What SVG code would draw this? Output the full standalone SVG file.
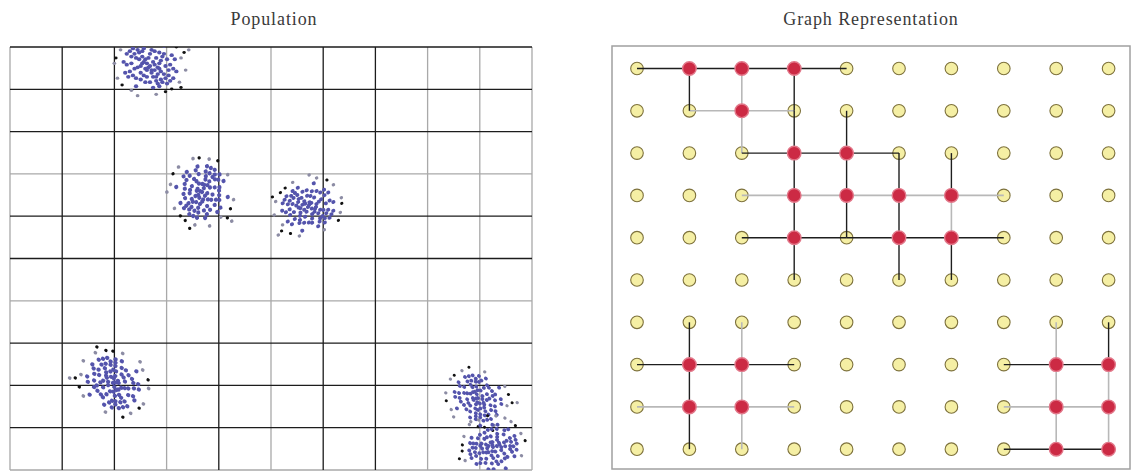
<svg xmlns="http://www.w3.org/2000/svg" xmlns:xlink="http://www.w3.org/1999/xlink" width="1136" height="472" viewBox="0 0 1136 472">
<style>
.title{font-family:"Liberation Serif","Times New Roman",serif;font-size:18px;fill:#3a3a3a;letter-spacing:0.9px;text-anchor:middle}
.gk{stroke:#1c1c1c;stroke-width:1.3;fill:none}
.gg{stroke:#a9a9a9;stroke-width:1.3;fill:none}
.b{fill:#5454ac}
.g{fill:#8c8ca4}
.k{fill:#111}
.ek{stroke:#1e1e1e;stroke-width:1.4}
.eg{stroke:#b8b8b8;stroke-width:1.6}
.yn circle{fill:#f5efa4;stroke:#7d713c;stroke-width:1.1}
.rn circle{fill:#cc2a44;stroke:#e2788a;stroke-width:1.4}
</style>
<defs>
<clipPath id="lclip"><rect x="10" y="47" width="522" height="423"/></clipPath>
<g id="blob">
<g class="b">
<circle cx="0" cy="0" r="1.4"/><circle cx="2" cy="-3" r="1.4"/><circle cx="-3" cy="2" r="1.4"/><circle cx="5" cy="1" r="1.4"/><circle cx="-5" cy="-2" r="1.4"/><circle cx="1" cy="5" r="1.4"/><circle cx="-1" cy="-6" r="1.4"/><circle cx="4" cy="-6" r="1.4"/><circle cx="-6" cy="5" r="1.4"/><circle cx="7" cy="4" r="1.4"/><circle cx="-7" cy="-5" r="1.4"/><circle cx="3" cy="3" r="1.4"/><circle cx="-2" cy="-2" r="1.4"/><circle cx="6" cy="-2" r="1.4"/><circle cx="-4" cy="7" r="1.4"/><circle cx="0" cy="-9" r="1.4"/><circle cx="8" cy="-7" r="1.4"/><circle cx="-8" cy="1" r="1.4"/><circle cx="2" cy="8" r="1.4"/><circle cx="-2" cy="3" r="1.4"/>
<circle cx="10" cy="0" r="1.4"/><circle cx="-10" cy="2" r="1.4"/><circle cx="9" cy="6" r="1.4"/><circle cx="-9" cy="-6" r="1.4"/><circle cx="4" cy="11" r="1.4"/><circle cx="-5" cy="-11" r="1.4"/><circle cx="11" cy="-5" r="1.4"/><circle cx="-11" cy="7" r="1.4"/><circle cx="0" cy="12" r="1.4"/><circle cx="1" cy="-12" r="1.4"/><circle cx="7" cy="10" r="1.4"/><circle cx="-7" cy="-10" r="1.4"/><circle cx="12" cy="3" r="1.4"/><circle cx="-12" cy="-2" r="1.4"/><circle cx="6" cy="-10" r="1.4"/><circle cx="-6" cy="10" r="1.4"/><circle cx="10" cy="9" r="1.4"/><circle cx="-10" cy="-9" r="1.4"/><circle cx="13" cy="-1" r="1.4"/><circle cx="-13" cy="4" r="1.4"/><circle cx="3" cy="-11" r="1.4"/><circle cx="-3" cy="12" r="1.4"/><circle cx="9" cy="-9" r="1.4"/><circle cx="-9" cy="9" r="1.4"/><circle cx="12" cy="7" r="1.4"/><circle cx="-12" cy="-7" r="1.4"/><circle cx="5" cy="13" r="1.4"/><circle cx="-4" cy="-13" r="1.4"/><circle cx="8" cy="12" r="1.4"/><circle cx="-8" cy="-12" r="1.4"/>
<circle cx="15" cy="2" r="1.4"/><circle cx="-15" cy="-1" r="1.4"/><circle cx="14" cy="-8" r="1.4"/><circle cx="-14" cy="8" r="1.4"/><circle cx="2" cy="16" r="1.4"/><circle cx="-2" cy="-16" r="1.4"/><circle cx="11" cy="13" r="1.4"/><circle cx="-11" cy="-13" r="1.4"/><circle cx="16" cy="-5" r="1.4"/><circle cx="-16" cy="5" r="1.4"/><circle cx="6" cy="15" r="1.4"/><circle cx="-7" cy="-15" r="1.4"/><circle cx="13" cy="11" r="1.4"/><circle cx="-13" cy="-11" r="1.4"/><circle cx="17" cy="4" r="1.4"/><circle cx="-17" cy="-3" r="1.4"/><circle cx="9" cy="-15" r="1.4"/><circle cx="-9" cy="15" r="1.4"/><circle cx="15" cy="9" r="1.4"/><circle cx="-15" cy="-9" r="1.4"/>
<circle cx="3" cy="-1" r="1.4"/><circle cx="-1" cy="1" r="1.4"/><circle cx="5" cy="6" r="1.4"/><circle cx="-5" cy="-7" r="1.4"/><circle cx="7" cy="-4" r="1.4"/><circle cx="-3" cy="-5" r="1.4"/><circle cx="1" cy="3" r="1.4"/><circle cx="-6" cy="0" r="1.4"/><circle cx="4" cy="8" r="1.4"/><circle cx="-4" cy="-3" r="1.4"/><circle cx="6" cy="2" r="1.4"/><circle cx="-2" cy="8" r="1.4"/>
</g>
<g class="g">
<circle cx="20" cy="-6" r="1.2"/><circle cx="-21" cy="9" r="1.2"/><circle cx="19" cy="12" r="1.2"/><circle cx="-19" cy="-12" r="1.2"/><circle cx="4" cy="21" r="1.2"/><circle cx="-5" cy="-20" r="1.2"/><circle cx="23" cy="3" r="1.2"/><circle cx="-23" cy="-2" r="1.2"/><circle cx="12" cy="-18" r="1.2"/><circle cx="-12" cy="18" r="1.2"/><circle cx="25" cy="-12" r="1.2"/><circle cx="-8" cy="22" r="1.2"/>
</g>
<g class="k">
<circle cx="17" cy="-14" r="1.1"/><circle cx="-18" cy="14" r="1.1"/><circle cx="20" cy="16" r="1.1"/><circle cx="-16" cy="-17" r="1.1"/><circle cx="10" cy="19" r="1.1"/><circle cx="-22" cy="-6" r="1.1"/><circle cx="22" cy="-10" r="1.1"/><circle cx="14" cy="17" r="1.1"/>
</g>
</g>
</defs>
<rect width="1136" height="472" fill="#fff"/>

<text class="title" x="274" y="25">Population</text>
<text class="title" x="871" y="25">Graph Representation</text>

<g id="population">
<g id="grid">
<path class="gg" d="M10,47V470M532,47V470M166.6,47V470M271,47V470M427.6,47V470M479.8,47V470M10,173.9H532M10,300.8H532M10,470H532"/>
<path class="gk" d="M10,47H532M62.2,47V470M114.4,47V470M218.8,47V470M323.2,47V470M375.4,47V470M10,89.3H532M10,131.6H532M10,216.2H532M10,258.5H532M10,343.1H532M10,385.4H532M10,427.7H532"/>
</g>
<g id="clusters" clip-path="url(#lclip)">
<use xlink:href="#blob" transform="translate(150,66) scale(1.55,1.35)"/>
<use xlink:href="#blob" transform="translate(202,192) rotate(70) scale(1.5)"/>
<use xlink:href="#blob" transform="translate(308,207) rotate(160) scale(1.5,1.35)"/>
<use xlink:href="#blob" transform="translate(113,383) rotate(210) scale(1.6,1.45)"/>
<use xlink:href="#blob" transform="translate(478,398) rotate(30) scale(1.45,1.3)"/>
<use xlink:href="#blob" transform="translate(493,447) rotate(120) scale(1.35,1.45)"/>
</g>
</g>

<rect id="graph-frame" x="612" y="46" width="518" height="423" fill="none" stroke="#a0a0a0" stroke-width="1.5"/>

<g id="yellow-nodes" class="yn">
<g id="n0_0"><circle cx="637" cy="68.5" r="6.3"/></g>
<g id="n0_4"><circle cx="846.6" cy="68.5" r="6.3"/></g>
<g id="n0_5"><circle cx="899" cy="68.5" r="6.3"/></g>
<g id="n0_6"><circle cx="951.4" cy="68.5" r="6.3"/></g>
<g id="n0_7"><circle cx="1003.8" cy="68.5" r="6.3"/></g>
<g id="n0_8"><circle cx="1056.2" cy="68.5" r="6.3"/></g>
<g id="n0_9"><circle cx="1108.6" cy="68.5" r="6.3"/></g>
<g id="n1_0"><circle cx="637" cy="110.8" r="6.3"/></g>
<g id="n1_1"><circle cx="689.4" cy="110.8" r="6.3"/></g>
<g id="n1_3"><circle cx="794.2" cy="110.8" r="6.3"/></g>
<g id="n1_4"><circle cx="846.6" cy="110.8" r="6.3"/></g>
<g id="n1_5"><circle cx="899" cy="110.8" r="6.3"/></g>
<g id="n1_6"><circle cx="951.4" cy="110.8" r="6.3"/></g>
<g id="n1_7"><circle cx="1003.8" cy="110.8" r="6.3"/></g>
<g id="n1_8"><circle cx="1056.2" cy="110.8" r="6.3"/></g>
<g id="n1_9"><circle cx="1108.6" cy="110.8" r="6.3"/></g>
<g id="n2_0"><circle cx="637" cy="153.1" r="6.3"/></g>
<g id="n2_1"><circle cx="689.4" cy="153.1" r="6.3"/></g>
<g id="n2_2"><circle cx="741.8" cy="153.1" r="6.3"/></g>
<g id="n2_5"><circle cx="899" cy="153.1" r="6.3"/></g>
<g id="n2_6"><circle cx="951.4" cy="153.1" r="6.3"/></g>
<g id="n2_7"><circle cx="1003.8" cy="153.1" r="6.3"/></g>
<g id="n2_8"><circle cx="1056.2" cy="153.1" r="6.3"/></g>
<g id="n2_9"><circle cx="1108.6" cy="153.1" r="6.3"/></g>
<g id="n3_0"><circle cx="637" cy="195.4" r="6.3"/></g>
<g id="n3_1"><circle cx="689.4" cy="195.4" r="6.3"/></g>
<g id="n3_2"><circle cx="741.8" cy="195.4" r="6.3"/></g>
<g id="n3_7"><circle cx="1003.8" cy="195.4" r="6.3"/></g>
<g id="n3_8"><circle cx="1056.2" cy="195.4" r="6.3"/></g>
<g id="n3_9"><circle cx="1108.6" cy="195.4" r="6.3"/></g>
<g id="n4_0"><circle cx="637" cy="237.7" r="6.3"/></g>
<g id="n4_1"><circle cx="689.4" cy="237.7" r="6.3"/></g>
<g id="n4_2"><circle cx="741.8" cy="237.7" r="6.3"/></g>
<g id="n4_4"><circle cx="846.6" cy="237.7" r="6.3"/></g>
<g id="n4_7"><circle cx="1003.8" cy="237.7" r="6.3"/></g>
<g id="n4_8"><circle cx="1056.2" cy="237.7" r="6.3"/></g>
<g id="n4_9"><circle cx="1108.6" cy="237.7" r="6.3"/></g>
<g id="n5_0"><circle cx="637" cy="280" r="6.3"/></g>
<g id="n5_1"><circle cx="689.4" cy="280" r="6.3"/></g>
<g id="n5_2"><circle cx="741.8" cy="280" r="6.3"/></g>
<g id="n5_3"><circle cx="794.2" cy="280" r="6.3"/></g>
<g id="n5_4"><circle cx="846.6" cy="280" r="6.3"/></g>
<g id="n5_5"><circle cx="899" cy="280" r="6.3"/></g>
<g id="n5_6"><circle cx="951.4" cy="280" r="6.3"/></g>
<g id="n5_7"><circle cx="1003.8" cy="280" r="6.3"/></g>
<g id="n5_8"><circle cx="1056.2" cy="280" r="6.3"/></g>
<g id="n5_9"><circle cx="1108.6" cy="280" r="6.3"/></g>
<g id="n6_0"><circle cx="637" cy="322.3" r="6.3"/></g>
<g id="n6_1"><circle cx="689.4" cy="322.3" r="6.3"/></g>
<g id="n6_2"><circle cx="741.8" cy="322.3" r="6.3"/></g>
<g id="n6_3"><circle cx="794.2" cy="322.3" r="6.3"/></g>
<g id="n6_4"><circle cx="846.6" cy="322.3" r="6.3"/></g>
<g id="n6_5"><circle cx="899" cy="322.3" r="6.3"/></g>
<g id="n6_6"><circle cx="951.4" cy="322.3" r="6.3"/></g>
<g id="n6_7"><circle cx="1003.8" cy="322.3" r="6.3"/></g>
<g id="n6_8"><circle cx="1056.2" cy="322.3" r="6.3"/></g>
<g id="n6_9"><circle cx="1108.6" cy="322.3" r="6.3"/></g>
<g id="n7_0"><circle cx="637" cy="364.6" r="6.3"/></g>
<g id="n7_3"><circle cx="794.2" cy="364.6" r="6.3"/></g>
<g id="n7_4"><circle cx="846.6" cy="364.6" r="6.3"/></g>
<g id="n7_5"><circle cx="899" cy="364.6" r="6.3"/></g>
<g id="n7_6"><circle cx="951.4" cy="364.6" r="6.3"/></g>
<g id="n7_7"><circle cx="1003.8" cy="364.6" r="6.3"/></g>
<g id="n8_0"><circle cx="637" cy="406.9" r="6.3"/></g>
<g id="n8_3"><circle cx="794.2" cy="406.9" r="6.3"/></g>
<g id="n8_4"><circle cx="846.6" cy="406.9" r="6.3"/></g>
<g id="n8_5"><circle cx="899" cy="406.9" r="6.3"/></g>
<g id="n8_6"><circle cx="951.4" cy="406.9" r="6.3"/></g>
<g id="n8_7"><circle cx="1003.8" cy="406.9" r="6.3"/></g>
<g id="n9_0"><circle cx="637" cy="449.2" r="6.3"/></g>
<g id="n9_1"><circle cx="689.4" cy="449.2" r="6.3"/></g>
<g id="n9_2"><circle cx="741.8" cy="449.2" r="6.3"/></g>
<g id="n9_3"><circle cx="794.2" cy="449.2" r="6.3"/></g>
<g id="n9_4"><circle cx="846.6" cy="449.2" r="6.3"/></g>
<g id="n9_5"><circle cx="899" cy="449.2" r="6.3"/></g>
<g id="n9_6"><circle cx="951.4" cy="449.2" r="6.3"/></g>
<g id="n9_7"><circle cx="1003.8" cy="449.2" r="6.3"/></g>
</g>

<g id="connectors">
<g class="eg">
<line x1="741.8" y1="68.5" x2="741.8" y2="110.8"/>
<line x1="689.4" y1="110.8" x2="741.8" y2="110.8"/>
<line x1="741.8" y1="110.8" x2="794.2" y2="110.8"/>
<line x1="741.8" y1="110.8" x2="741.8" y2="153.1"/>
<line x1="741.8" y1="195.4" x2="794.2" y2="195.4"/>
<line x1="794.2" y1="195.4" x2="846.6" y2="195.4"/>
<line x1="846.6" y1="195.4" x2="899" y2="195.4"/>
<line x1="899" y1="195.4" x2="951.4" y2="195.4"/>
<line x1="951.4" y1="195.4" x2="1003.8" y2="195.4"/>
<line x1="951.4" y1="195.4" x2="951.4" y2="237.7"/>
<line x1="741.8" y1="322.3" x2="741.8" y2="364.6"/>
<line x1="1056.2" y1="322.3" x2="1056.2" y2="364.6"/>
<line x1="741.8" y1="364.6" x2="741.8" y2="406.9"/>
<line x1="1056.2" y1="364.6" x2="1056.2" y2="406.9"/>
<line x1="1108.6" y1="364.6" x2="1108.6" y2="406.9"/>
<line x1="637" y1="406.9" x2="689.4" y2="406.9"/>
<line x1="689.4" y1="406.9" x2="741.8" y2="406.9"/>
<line x1="741.8" y1="406.9" x2="794.2" y2="406.9"/>
<line x1="1003.8" y1="406.9" x2="1056.2" y2="406.9"/>
<line x1="1056.2" y1="406.9" x2="1108.6" y2="406.9"/>
<line x1="741.8" y1="406.9" x2="741.8" y2="449.2"/>
<line x1="1056.2" y1="406.9" x2="1056.2" y2="449.2"/>
<line x1="1108.6" y1="406.9" x2="1108.6" y2="449.2"/>
</g>
<g class="ek">
<line x1="637" y1="68.5" x2="689.4" y2="68.5"/>
<line x1="689.4" y1="68.5" x2="741.8" y2="68.5"/>
<line x1="741.8" y1="68.5" x2="794.2" y2="68.5"/>
<line x1="794.2" y1="68.5" x2="846.6" y2="68.5"/>
<line x1="689.4" y1="68.5" x2="689.4" y2="110.8"/>
<line x1="794.2" y1="68.5" x2="794.2" y2="110.8"/>
<line x1="794.2" y1="110.8" x2="794.2" y2="153.1"/>
<line x1="846.6" y1="110.8" x2="846.6" y2="153.1"/>
<line x1="741.8" y1="153.1" x2="794.2" y2="153.1"/>
<line x1="794.2" y1="153.1" x2="846.6" y2="153.1"/>
<line x1="846.6" y1="153.1" x2="899" y2="153.1"/>
<line x1="794.2" y1="153.1" x2="794.2" y2="195.4"/>
<line x1="846.6" y1="153.1" x2="846.6" y2="195.4"/>
<line x1="899" y1="153.1" x2="899" y2="195.4"/>
<line x1="951.4" y1="153.1" x2="951.4" y2="195.4"/>
<line x1="794.2" y1="195.4" x2="794.2" y2="237.7"/>
<line x1="846.6" y1="195.4" x2="846.6" y2="237.7"/>
<line x1="899" y1="195.4" x2="899" y2="237.7"/>
<line x1="741.8" y1="237.7" x2="794.2" y2="237.7"/>
<line x1="794.2" y1="237.7" x2="846.6" y2="237.7"/>
<line x1="846.6" y1="237.7" x2="899" y2="237.7"/>
<line x1="899" y1="237.7" x2="951.4" y2="237.7"/>
<line x1="951.4" y1="237.7" x2="1003.8" y2="237.7"/>
<line x1="794.2" y1="237.7" x2="794.2" y2="280"/>
<line x1="899" y1="237.7" x2="899" y2="280"/>
<line x1="951.4" y1="237.7" x2="951.4" y2="280"/>
<line x1="689.4" y1="322.3" x2="689.4" y2="364.6"/>
<line x1="1108.6" y1="322.3" x2="1108.6" y2="364.6"/>
<line x1="637" y1="364.6" x2="689.4" y2="364.6"/>
<line x1="689.4" y1="364.6" x2="741.8" y2="364.6"/>
<line x1="741.8" y1="364.6" x2="794.2" y2="364.6"/>
<line x1="1003.8" y1="364.6" x2="1056.2" y2="364.6"/>
<line x1="1056.2" y1="364.6" x2="1108.6" y2="364.6"/>
<line x1="689.4" y1="364.6" x2="689.4" y2="406.9"/>
<line x1="689.4" y1="406.9" x2="689.4" y2="449.2"/>
<line x1="1003.8" y1="449.2" x2="1056.2" y2="449.2"/>
<line x1="1056.2" y1="449.2" x2="1108.6" y2="449.2"/>
</g>
</g>

<g id="red-nodes" class="rn">
<g id="n0_1"><circle cx="689.4" cy="68.5" r="6.8"/></g>
<g id="n0_2"><circle cx="741.8" cy="68.5" r="6.8"/></g>
<g id="n0_3"><circle cx="794.2" cy="68.5" r="6.8"/></g>
<g id="n1_2"><circle cx="741.8" cy="110.8" r="6.8"/></g>
<g id="n2_3"><circle cx="794.2" cy="153.1" r="6.8"/></g>
<g id="n2_4"><circle cx="846.6" cy="153.1" r="6.8"/></g>
<g id="n3_3"><circle cx="794.2" cy="195.4" r="6.8"/></g>
<g id="n3_4"><circle cx="846.6" cy="195.4" r="6.8"/></g>
<g id="n3_5"><circle cx="899" cy="195.4" r="6.8"/></g>
<g id="n3_6"><circle cx="951.4" cy="195.4" r="6.8"/></g>
<g id="n4_3"><circle cx="794.2" cy="237.7" r="6.8"/></g>
<g id="n4_5"><circle cx="899" cy="237.7" r="6.8"/></g>
<g id="n4_6"><circle cx="951.4" cy="237.7" r="6.8"/></g>
<g id="n7_1"><circle cx="689.4" cy="364.6" r="6.8"/></g>
<g id="n7_2"><circle cx="741.8" cy="364.6" r="6.8"/></g>
<g id="n8_1"><circle cx="689.4" cy="406.9" r="6.8"/></g>
<g id="n8_2"><circle cx="741.8" cy="406.9" r="6.8"/></g>
<g id="n7_8"><circle cx="1056.2" cy="364.6" r="6.8"/></g>
<g id="n7_9"><circle cx="1108.6" cy="364.6" r="6.8"/></g>
<g id="n8_8"><circle cx="1056.2" cy="406.9" r="6.8"/></g>
<g id="n8_9"><circle cx="1108.6" cy="406.9" r="6.8"/></g>
<g id="n9_8"><circle cx="1056.2" cy="449.2" r="6.8"/></g>
<g id="n9_9"><circle cx="1108.6" cy="449.2" r="6.8"/></g>
</g>
</svg>
